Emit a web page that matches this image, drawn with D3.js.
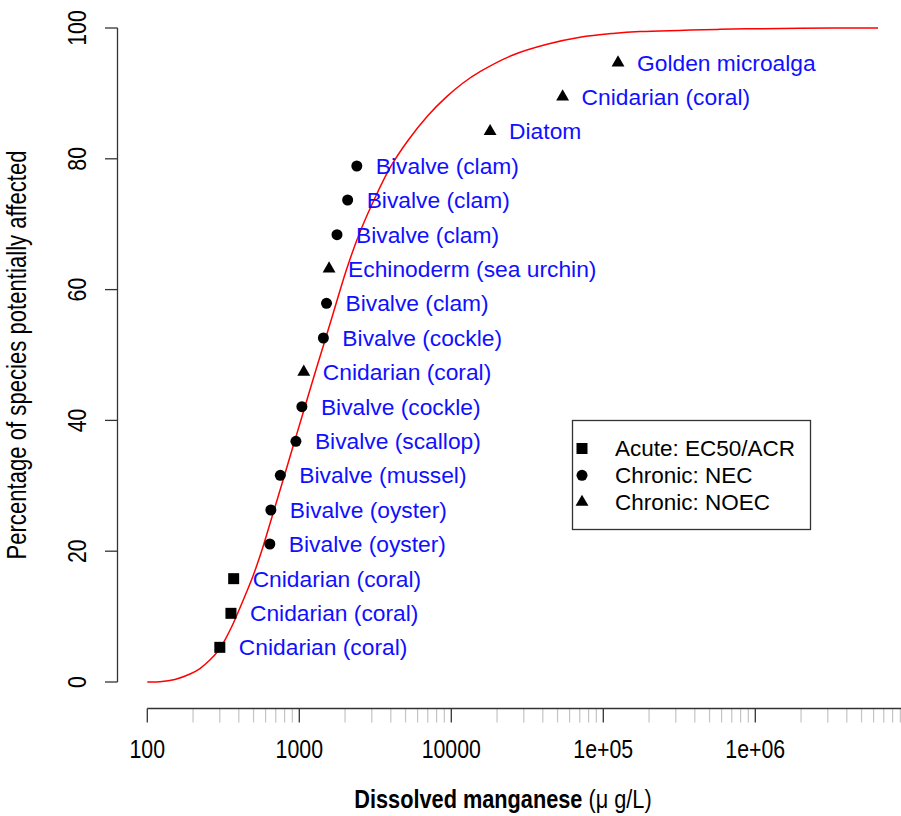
<html>
  <script src="https://cdnjs.cloudflare.com/ajax/libs/d3/7.8.5/d3.min.js"></script>
  <style>
    html, body {
      margin: 0px;
      padding: 0px;
      background: #fff;
    }
    text {
      font-family: "Liberation Sans", Arial, sans-serif;
    }
  </style>
  <body>
    <div id="chart"></div>
    <script>
      // species sensitivity data, lowest to highest
      var species = ["Cnidarian (coral)", "Cnidarian (coral)", "Cnidarian (coral)",
        "Bivalve (oyster)", "Bivalve (oyster)", "Bivalve (mussel)", "Bivalve (scallop)",
        "Bivalve (cockle)", "Cnidarian (coral)", "Bivalve (cockle)", "Bivalve (clam)",
        "Echinoderm (sea urchin)", "Bivalve (clam)", "Bivalve (clam)", "Bivalve (clam)",
        "Diatom", "Cnidarian (coral)", "Golden microalga"];
      var conc = [300, 355, 370, 640, 650, 750, 950, 1040, 1070, 1440, 1510, 1570,
        1770, 2080, 2390, 18000, 54000, 125000];
      var pct = [5.3, 10.5, 15.8, 21.1, 26.3, 31.6, 36.8, 42.1, 47.4, 52.6, 57.9, 63.2,
        68.4, 73.7, 78.9, 84.2, 89.5, 94.7];
      var testType = ["acute", "acute", "acute", "nec", "nec", "nec", "nec", "nec", "noec",
        "nec", "nec", "noec", "nec", "nec", "nec", "noec", "noec", "noec"];

      // fitted curve
      var curveConc = [100, 121, 152, 191, 222, 258, 292, 324, 361, 395, 428, 496, 568,
        661, 770, 895, 1042, 1212, 1411, 1666, 2045, 2471, 3100, 3981, 5190, 7025,
        9330, 11940, 15450, 25460, 42640, 70260, 115800, 174300, 586000, 1970000, 6420000];
      var curvePct = [0, 0.03, 0.38, 1.22, 2.06, 3.36, 4.74, 6.42, 8.56, 10.63, 12.54,
        16.21, 20.18, 25.23, 30.35, 35.47, 40.6, 45.72, 50.76, 56.27, 63.07, 68.43,
        73.7, 78.75, 82.8, 86.62, 89.5, 91.59, 93.32, 95.87, 97.51, 98.58, 99.16,
        99.45, 99.79, 99.97, 100];

      var legendLabels = ["Acute: EC50/ACR", "Chronic: NEC", "Chronic: NOEC"];
      var legendTypes = ["acute", "nec", "noec"];
      var xTickLabels = ["100", "1000", "10000", "1e+05", "1e+06"];
      var yTicks = [0, 20, 40, 60, 80, 100];

      var width = 901, height = 816;
      var narrow = " scale(0.82,1)";
      var svg = d3.select("#chart").append("svg")
        .attr("width", width).attr("height", height);

      var x = d3.scaleLog().domain([100, 1e7]).range([147.3, 907.3]);
      var y = d3.scaleLinear().domain([0, 100]).range([682, 28]);

      var symbols = {
        acute: d3.symbol().type(d3.symbolSquare).size(121),
        nec: d3.symbol().type(d3.symbolCircle).size(95),
        noec: d3.symbol().type(d3.symbolTriangle).size(72)
      };

      // y axis
      var yAxis = svg.append("g");
      yAxis.append("line")
        .attr("x1", 117.5).attr("x2", 117.5)
        .attr("y1", y(0)).attr("y2", y(100))
        .attr("stroke", "#333").attr("stroke-width", 1.3);
      yAxis.selectAll(".ytick").data(yTicks).enter().append("line")
        .attr("x1", 105).attr("x2", 117.5)
        .attr("y1", d => y(d)).attr("y2", d => y(d))
        .attr("stroke", "#333").attr("stroke-width", 1.3);
      yAxis.selectAll(".ylab").data(yTicks).enter().append("text")
        .attr("transform", d => "translate(86," + y(d) + ") rotate(-90)" + narrow)
        .attr("text-anchor", "middle")
        .attr("font-size", 26)
        .text(d => d);
      svg.append("text")
        .attr("transform", "translate(26," + ((y(0) + y(100)) / 2) + ") rotate(-90)" + narrow)
        .attr("text-anchor", "middle")
        .attr("font-size", 27)
        .text("Percentage of species potentially affected");

      // x axis
      var axisY = 708.5;
      var allTicks = x.ticks();
      var isMajor = d => Math.abs(Math.log10(d) - Math.round(Math.log10(d))) < 1e-9;
      var xAxis = svg.append("g");
      xAxis.selectAll(".minor").data(allTicks.filter(d => !isMajor(d))).enter().append("line")
        .attr("x1", d => x(d)).attr("x2", d => x(d))
        .attr("y1", axisY).attr("y2", axisY + 14)
        .attr("stroke", "#c4c4c4").attr("stroke-width", 1.2);
      xAxis.selectAll(".major").data(allTicks.filter(isMajor)).enter().append("line")
        .attr("x1", d => x(d)).attr("x2", d => x(d))
        .attr("y1", axisY).attr("y2", axisY + 14)
        .attr("stroke", "#333").attr("stroke-width", 1.3);
      xAxis.append("line")
        .attr("x1", x(100)).attr("x2", x(1e7))
        .attr("y1", axisY).attr("y2", axisY)
        .attr("stroke", "#333").attr("stroke-width", 1.3);
      xAxis.selectAll(".xlab").data(xTickLabels).enter().append("text")
        .attr("transform", (d, i) => "translate(" + x(Math.pow(10, i + 2)) + ",758)" + narrow)
        .attr("text-anchor", "middle")
        .attr("font-size", 26)
        .text(d => d);
      var xTitle = svg.append("text")
        .attr("transform", "translate(503,808)" + narrow)
        .attr("text-anchor", "middle")
        .attr("font-size", 26.5);
      xTitle.append("tspan").attr("font-weight", "bold").text("Dissolved manganese ");
      xTitle.append("tspan").text("(\u03bc g/L)");

      // fitted curve
      var line = d3.line()
        .x((d, i) => x(curveConc[i]))
        .y((d, i) => y(curvePct[i]))
        .curve(d3.curveCatmullRom);
      svg.append("path")
        .attr("d", line(curveConc))
        .attr("fill", "none")
        .attr("stroke", "#ff0000")
        .attr("stroke-width", 1.5);

      // points and labels
      svg.selectAll(".pt").data(conc).enter().append("path")
        .attr("transform", (d, i) => "translate(" + x(d) + "," + y(pct[i]) + ")")
        .attr("d", (d, i) => symbols[testType[i]]())
        .attr("fill", "#000");
      svg.selectAll(".lab").data(conc).enter().append("text")
        .attr("x", d => x(d) + 19)
        .attr("y", (d, i) => y(pct[i]))
        .attr("dy", "0.35em")
        .attr("font-size", 22.8)
        .attr("fill", "#1010ff")
        .text((d, i) => species[i]);

      // legend
      var legend = svg.append("g");
      legend.append("rect")
        .attr("x", 572.5).attr("y", 420.5)
        .attr("width", 238).attr("height", 109)
        .attr("fill", "#fff").attr("stroke", "#333").attr("stroke-width", 1.3);
      legend.selectAll(".lsym").data(legendTypes).enter().append("path")
        .attr("transform", (d, i) => "translate(582," + (448.5 + i * 26.8) + ")")
        .attr("d", d => symbols[d]());
      legend.selectAll(".ltxt").data(legendLabels).enter().append("text")
        .attr("x", 615)
        .attr("y", (d, i) => 448.5 + i * 26.8)
        .attr("dy", "0.35em")
        .attr("font-size", 22.5)
        .text(d => d);
    </script>
  </body>
</html>
